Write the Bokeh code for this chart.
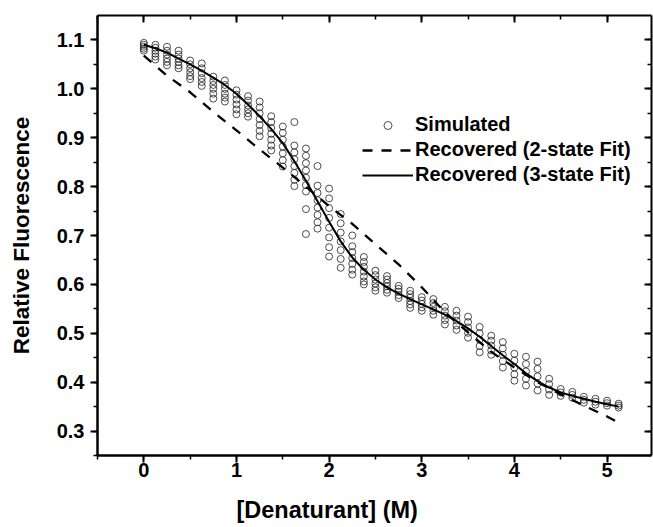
from bokeh.plotting import figure
from bokeh.models import (Range1d, LinearAxis, SingleIntervalTicker,
                          PrintfTickFormatter, Legend, LegendItem,
                          CustomLabelingPolicy, Title)
from bokeh.embed import file_html
from bokeh.resources import INLINE

# ---------------- data ----------------
sim_conc = [0.000, 0.125, 0.250, 0.375, 0.500, 0.625, 0.750, 0.875,
            1.000, 1.125, 1.250, 1.375, 1.500, 1.625, 1.750, 1.875,
            2.000, 2.125, 2.250, 2.375, 2.500, 2.625, 2.750, 2.875,
            3.000, 3.125, 3.250, 3.375, 3.500, 3.625, 3.750, 3.875,
            4.000, 4.125, 4.250, 4.375, 4.500, 4.625, 4.750, 4.875,
            5.000, 5.125]

sim_signal = [
    [1.094, 1.090, 1.086, 1.082, 1.078],
    [1.090, 1.084, 1.078, 1.072, 1.066, 1.060],
    [1.086, 1.078, 1.070, 1.062, 1.055, 1.048],
    [1.078, 1.070, 1.062, 1.055, 1.048, 1.042],
    [1.058, 1.050, 1.042, 1.034, 1.026, 1.020],
    [1.052, 1.042, 1.032, 1.022, 1.014, 1.006],
    [1.025, 1.016, 1.008, 1.000, 0.990, 0.980],
    [1.017, 1.008, 1.000, 0.990, 0.982, 0.974],
    [0.997, 0.988, 0.978, 0.968, 0.958, 0.948],
    [0.985, 0.976, 0.966, 0.958, 0.950, 0.943],
    [0.974, 0.962, 0.950, 0.938, 0.926, 0.914, 0.903],
    [0.944, 0.932, 0.920, 0.908, 0.896, 0.884, 0.874],
    [0.923, 0.910, 0.896, 0.882, 0.868, 0.854, 0.841],
    [0.932, 0.884, 0.870, 0.856, 0.842, 0.828, 0.814, 0.801],
    [0.878, 0.863, 0.848, 0.833, 0.818, 0.803, 0.790, 0.754, 0.703],
    [0.842, 0.802, 0.787, 0.772, 0.757, 0.742, 0.727, 0.714],
    [0.796, 0.776, 0.756, 0.736, 0.716, 0.696, 0.676, 0.657],
    [0.744, 0.725, 0.706, 0.688, 0.670, 0.652, 0.634],
    [0.700, 0.678, 0.666, 0.654, 0.642, 0.630, 0.620],
    [0.656, 0.646, 0.636, 0.626, 0.616, 0.606, 0.600],
    [0.628, 0.619, 0.610, 0.602, 0.594, 0.587],
    [0.617, 0.610, 0.603, 0.596, 0.589, 0.583],
    [0.597, 0.591, 0.585, 0.578, 0.572],
    [0.587, 0.580, 0.573, 0.566, 0.559, 0.552],
    [0.574, 0.567, 0.560, 0.553, 0.546],
    [0.570, 0.562, 0.554, 0.546, 0.538],
    [0.554, 0.545, 0.536, 0.527, 0.518],
    [0.546, 0.536, 0.526, 0.516, 0.507],
    [0.534, 0.523, 0.512, 0.501, 0.491],
    [0.513, 0.500, 0.487, 0.474, 0.461],
    [0.495, 0.485, 0.475, 0.465, 0.456],
    [0.482, 0.469, 0.456, 0.443, 0.430],
    [0.458, 0.444, 0.430, 0.416, 0.403],
    [0.452, 0.437, 0.422, 0.407, 0.393],
    [0.442, 0.427, 0.412, 0.397, 0.383],
    [0.407, 0.396, 0.385, 0.374],
    [0.386, 0.379, 0.372],
    [0.380, 0.374, 0.368],
    [0.370, 0.364, 0.358],
    [0.366, 0.360, 0.354],
    [0.362, 0.357, 0.352],
    [0.356, 0.352, 0.348],
]

fit3_conc = sim_conc
fit3_signal = [1.090, 1.083, 1.074, 1.062, 1.050, 1.037, 1.023, 1.008,
               0.990, 0.968, 0.944, 0.918, 0.889, 0.852, 0.812, 0.770,
               0.728, 0.688, 0.655, 0.630, 0.610, 0.594, 0.581, 0.570,
               0.559, 0.549, 0.538, 0.525, 0.510, 0.493, 0.474, 0.455,
               0.437, 0.418, 0.402, 0.389, 0.379, 0.372, 0.366, 0.360,
               0.355, 0.350]

fit2_conc = [0.00, 0.25, 0.50, 0.75, 1.00, 1.25, 1.50, 1.75, 2.00, 2.25,
             2.50, 2.75, 3.00, 3.25, 3.50, 3.75, 4.00, 4.25, 4.50, 4.75,
             5.00, 5.125]
fit2_signal = [1.068, 1.027, 0.993, 0.953, 0.915, 0.876, 0.839, 0.800,
               0.760, 0.724, 0.682, 0.641, 0.594, 0.543, 0.502, 0.462,
               0.430, 0.400, 0.375, 0.352, 0.330, 0.317]

x_title = "[Denaturant] (M)"
y_title = "Relative Fluorescence"
legend_labels = ["Simulated", "Recovered (2-state Fit)", "Recovered (3-state Fit)"]

# ---------------- build ----------------
pts_x, pts_y = [], []
for c, ys in zip(sim_conc, sim_signal):
    for v in ys:
        pts_x.append(c)
        pts_y.append(v)

FONT = "Liberation Sans"

p = figure(frame_width=554, frame_height=440,
           x_range=Range1d(-0.5, 5.48), y_range=Range1d(0.25, 1.15),
           output_backend="svg", toolbar_location=None,
           min_border_left=97, min_border_right=2, min_border_top=15,
           min_border_bottom=72)
p.outline_line_color = None
p.grid.visible = False
p.background_fill_color = "white"
p.border_fill_color = "white"

xt = SingleIntervalTicker(interval=1, num_minor_ticks=2)
yt = SingleIntervalTicker(interval=0.1, num_minor_ticks=2)

def style(ax, lw):
    ax.axis_line_width = lw
    ax.axis_line_color = "black"
    ax.major_tick_line_width = 2
    ax.minor_tick_line_width = 1.5
    ax.major_tick_line_color = "black"
    ax.minor_tick_line_color = "black"
    ax.major_label_text_font = FONT
    ax.major_label_text_font_style = "bold"
    ax.major_label_text_font_size = "20px"
    ax.major_label_text_color = "black"
    ax.axis_label_text_font = FONT
    ax.axis_label_text_font_style = "bold"
    ax.axis_label_text_color = "black"

xa = p.xaxis[0]
xa.ticker = xt
style(xa, 2.5)
xa.major_tick_out = 7
xa.major_tick_in = 0
xa.minor_tick_out = 4
xa.minor_tick_in = 0
xa.major_label_standoff = 0

# x-axis title sits left of centre in the reference, so it is a Title below
xtitle = Title(text=x_title, align="left", offset=139, standoff=30,
               text_font=FONT, text_font_style="bold",
               text_font_size="23.5px", text_color="black")
p.add_layout(xtitle, "below")

ya = p.yaxis[0]
ya.ticker = yt
ya.formatter = PrintfTickFormatter(format="%.1f")
style(ya, 2.5)
ya.major_tick_out = 7
ya.major_tick_in = 0
ya.minor_tick_out = 4
ya.minor_tick_in = 0
ya.major_label_standoff = 6
ya.axis_label = y_title
ya.axis_label_text_font_size = "22.5px"
ya.axis_label_standoff = 20

no_labels = CustomLabelingPolicy(code="""
for (const i of Array.from(indices)) { indices.unset(i) }
return indices
""")

for loc, tk in (("above", xt), ("right", yt)):
    ax = LinearAxis(ticker=tk)
    style(ax, 2)
    ax.major_label_policy = no_labels
    ax.major_label_text_font_size = "1px"
    ax.major_label_standoff = 0
    ax.major_tick_in = 7
    ax.major_tick_out = 0
    ax.minor_tick_in = 4
    ax.minor_tick_out = 0
    p.add_layout(ax, loc)

r_sim = p.scatter(pts_x, pts_y, marker="circle", size=7, fill_color=None,
                  line_color="#222222", line_width=0.8)
r_fit2 = p.line(fit2_conc, fit2_signal, line_color="black", line_width=2.3,
                line_dash="10 9")
r_fit3 = p.line(fit3_conc, fit3_signal, line_color="black", line_width=2)

legend = Legend(items=[LegendItem(label=legend_labels[0], renderers=[r_sim]),
                       LegendItem(label=legend_labels[1], renderers=[r_fit2]),
                       LegendItem(label=legend_labels[2], renderers=[r_fit3])],
                location=(265, 269))
legend.border_line_color = None
legend.background_fill_alpha = 0
legend.padding = 0
legend.margin = 0
legend.spacing = 2
legend.glyph_width = 51
legend.glyph_height = 20
legend.label_height = 20
legend.label_standoff = 2
legend.label_text_font = FONT
legend.label_text_font_style = "bold"
legend.label_text_font_size = "20px"
legend.label_text_color = "black"
p.add_layout(legend, "center")

open("out.html", "w").write(file_html(p, INLINE))
